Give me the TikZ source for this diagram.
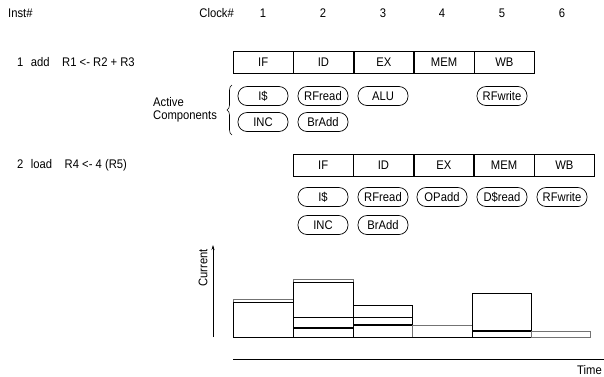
\documentclass[tikz,border=0pt]{standalone}
\usepackage{fontspec}
\setmainfont{Liberation Sans}[FakeStretch=0.9]
\usetikzlibrary{arrows.meta,decorations.pathreplacing}
\begin{document}
\begin{tikzpicture}[x=1pt,y=-1pt, font=\fontsize{12.5}{14}\selectfont,
  stage/.style={draw, minimum width=59.6pt, minimum height=22pt, inner sep=0pt, anchor=west, line width=0.7pt},
  comp/.style={draw, rounded corners=9pt, minimum width=50pt, minimum height=19pt, inner sep=3pt, line width=0.7pt},
  lbl/.style={inner sep=0pt},
  bar/.style={draw=black, line width=0.7pt},
  barthick/.style={draw=black, line width=1.5pt},
  bargray/.style={draw=black!55, line width=0.7pt}]
\useasboundingbox (0,0) rectangle (604,376);

% header
\node[lbl, anchor=west] (inst) at (8,13) {Inst\#};
\node[lbl, anchor=east] (clock) at (234,13) {Clock\#};
\node[lbl] (c1) at (263,13) {1};
\node[lbl] (c2) at (323,13) {2};
\node[lbl] (c3) at (383,13) {3};
\node[lbl] (c4) at (442,13) {4};
\node[lbl] (c5) at (502,13) {5};
\node[lbl] (c6) at (562,13) {6};

% instruction 1
\node[lbl, anchor=west] (i1) at (17,62) {1\hspace{0.6em}add\hspace{1em}R1 <- R2 + R3};
\node[stage] (a1) at (233,62) {IF};
\node[stage] (a2) at (a1.east) {ID};
\node[stage] (a3) at (a2.east) {EX};
\node[stage] (a4) at (a3.east) {MEM};
\node[stage] (a5) at (a4.east) {WB};

\node[comp] (ai) at (263,96) {I\$};
\node[comp] (arf) at (323,96) {RFread};
\node[comp] (aalu) at (383,96) {ALU};
\node[comp] (arw) at (502,96) {RFwrite};
\node[comp] (ainc) at (263,122) {INC};
\node[comp] (abr) at (323,122) {BrAdd};

\node[lbl, anchor=west] (act) at (153,102) {Active};
\node[lbl, anchor=west] (cmp) at (153,116) {Components};
\coordinate (bb) at (232,135);
\coordinate (bt) at (232,85);
\draw[decorate, decoration={brace, amplitude=5pt}, line width=0.6pt] (bb) -- (bt);

% instruction 2
\node[lbl, anchor=west] (i2) at (17,165) {2\hspace{0.6em}load\hspace{1em}R4 <- 4 (R5)};
\node[stage] (b1) at (293,165) {IF};
\node[stage] (b2) at (b1.east) {ID};
\node[stage] (b3) at (b2.east) {EX};
\node[stage] (b4) at (b3.east) {MEM};
\node[stage] (b5) at (b4.east) {WB};

\node[comp] (bi) at (323,197) {I\$};
\node[comp] (brf) at (383,197) {RFread};
\node[comp] (bop) at (442,197) {OPadd};
\node[comp] (bd) at (502,197) {D\$read};
\node[comp] (brw) at (562,197) {RFwrite};
\node[comp] (binc) at (323,225) {INC};
\node[comp] (bbr) at (383,225) {BrAdd};

% current graph
\node[lbl, rotate=90] (cur) at (203,268) {Current};
\coordinate (ya) at (213,337);
\coordinate (yb) at (213,245);
\draw[-{Stealth[length=5pt,width=3pt]}, line width=0.6pt] (ya) -- (yb);

% column 1
\draw[bargray] (233,337) rectangle (293,299);
\draw[bar] (233,337) rectangle (293,302);
% column 2
\draw[bargray] (293,337) rectangle (353,279);
\draw[bar] (293,337) rectangle (353,282);
\draw[bar] (293,317) -- (353,317);
\draw[barthick] (293,328) -- (353,328);
% column 3
\draw[bar] (353,337) rectangle (412,305);
\draw[bar] (353,317) -- (412,317);
\draw[barthick] (353,325) -- (412,325);
% column 4
\draw[bargray] (412,337) rectangle (472,325);
% column 5
\draw[bar] (472,337) rectangle (531,293);
\draw[barthick] (472,331) -- (531,331);
% column 6
\draw[bargray] (531,337) rectangle (590,331);
% baseline
\draw[bar] (233,337) -- (531,337);

% time axis
\coordinate (ta) at (233,359);
\coordinate (tb) at (604,359);
\draw[line width=0.7pt] (ta) -- (tb);
\node[lbl, anchor=east] (time) at (602,370) {Time};
\end{tikzpicture}
\end{document}
